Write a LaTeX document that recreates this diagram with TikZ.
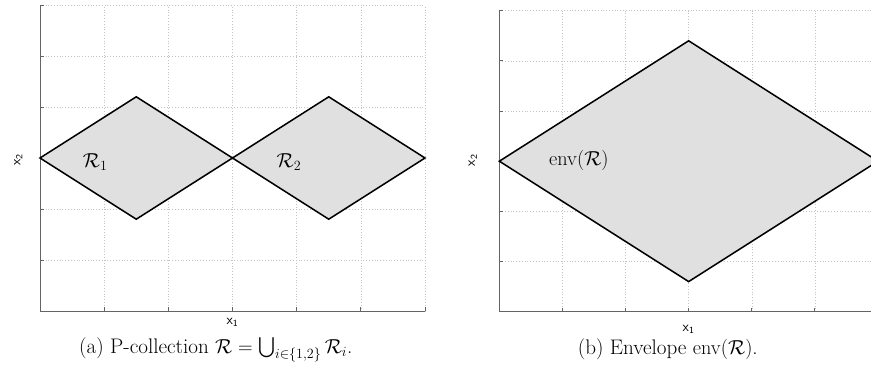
\documentclass[tikz,border=0pt]{standalone}
\usepackage{amsmath}
\usepackage{xcolor}
\usepackage{tikz}
\usetikzlibrary{positioning, calc}
\definecolor{grisfond}{RGB}{224, 224, 224}
\definecolor{grisaxe}{RGB}{100, 100, 100}
\definecolor{grisgrille}{RGB}{195, 195, 195}

\begin{document}
\begin{tikzpicture}[font=\fontsize{18}{22}\selectfont]
    \tikzset{
      grille/.style={grisgrille, dotted, line width=0.4pt},
      axe/.style={grisaxe, line width=0.7pt},
      region/.style={fill=grisfond, draw=black, line width=1.3pt, line join=miter},
      nomaxe/.style={font=\sffamily\fontsize{12}{14}\selectfont, inner sep=1pt}
    }
    \useasboundingbox (0,0) rectangle (26.13,11.22);
    \def\axe{
      \foreach \i in {1,...,6}
        \draw[grille] (\i,0) -- (\i,6);
      \foreach \j in {1,...,6}
        \draw[grille] (0,\j) -- (6,\j);
      \draw[axe] (0,6) -- (0,0) -- (6,0);
      \foreach \i in {1,...,6}
        \draw[axe] (\i,0) -- ++(0,0.12cm);
      \foreach \j in {1,...,6}
        \draw[axe] (0,\j) -- ++(0.12cm,0);
    }
    % union
    \begin{scope}[xshift=1.2cm, yshift=1.89cm, x=1.925cm, y=1.53cm]
      \axe
      \filldraw[region] (0,3) -- (1.5,4.2) -- (3,3) -- (1.5,1.8) -- cycle;
      \filldraw[region] (3,3) -- (4.5,4.2) -- (6,3) -- (4.5,1.8) -- cycle;
      \node (r1) at (0.86,2.92) {$\mathcal{R}_1$};
      \node (r2) at (3.88,2.92) {$\mathcal{R}_2$};
      \node[nomaxe] (xa1) at (3,-0.22) {x\textsubscript{1}};
      \node[nomaxe, rotate=90] (xa2) at (-0.34,2.96) {x\textsubscript{2}};
      \node (capa) at (2.74,-0.76) {(a) P-collection $\mathcal{R}=\bigcup_{i\in\{1,2\}}\mathcal{R}_i$.};
    \end{scope}
    % envelope
    \begin{scope}[xshift=14.98cm, yshift=1.869cm, x=1.893cm, y=1.505cm]
      \axe
      \filldraw[region] (0,3) -- (3,5.4) -- (6,3) -- (3,0.6) -- cycle;
      \node (env) at (1.26,3.02) {$\mathrm{env}(\mathcal{R})$};
      \node[nomaxe] (xb1) at (3,-0.35) {x\textsubscript{1}};
      \node[nomaxe, rotate=90] (xb2) at (-0.42,3.02) {x\textsubscript{2}};
      \node (capb) at (2.67,-0.74) {(b) Envelope $\mathrm{env}(\mathcal{R})$.};
    \end{scope}
\end{tikzpicture}
\end{document}
